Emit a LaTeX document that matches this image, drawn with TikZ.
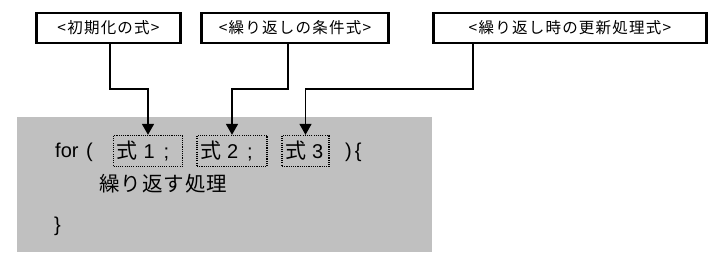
\documentclass[tikz,border=0pt]{standalone}
\usepackage{fontspec}
\setmainfont{Liberation Sans}
\newfontfamily\jp{Noto Sans CJK JP}
\newfontfamily\jpl[LetterSpace=8]{Noto Sans CJK JP}
\newfontfamily\jpb[LetterSpace=5]{Noto Sans CJK JP}
\usetikzlibrary{arrows.meta}
\definecolor{bg}{RGB}{192,192,192}
\begin{document}
\begin{tikzpicture}[x=1pt,y=-1pt,
  lbl/.style={draw, line width=2.6pt, inner sep=0, minimum height=30pt, font=\jpl\fontsize{15.5}{17}\selectfont},
  dotbox/.style={draw, line width=1.3pt, dash pattern=on 1.1pt off 1.1pt, inner sep=0, minimum height=31pt, font=\fontsize{20}{22}\selectfont},
  code/.style={inner sep=0, font=\fontsize{20}{22}\selectfont},
  conn/.style={line width=1.4pt, -{Triangle[length=11pt,width=12pt]}}]
\useasboundingbox (0,0) rectangle (715,257);
\fill[bg] (17,117) rectangle (432,252);
% label boxes
\node[lbl, minimum width=144pt] (l1) at (108.5,28) {<初期化の式>};
\node[lbl, minimum width=187pt] (l2) at (295,28) {<繰り返しの条件式>};
\node[lbl, minimum width=273pt] (l3) at (570,28) {<繰り返し時の更新処理式>};
% code
\node[code, anchor=base west] (for) at (55,157) {for\hspace{7.5pt}(};
\node[dotbox] (d1) at (148,151) {\makebox[69pt][l]{\hspace{3pt}{\jp\fontsize{21}{22}\selectfont 式}\hspace{6pt}1\hspace{9pt};}};
\node[dotbox] (d2) at (232,151) {\makebox[70pt][l]{\hspace{3pt}{\jp\fontsize{21}{22}\selectfont 式}\hspace{6pt}2\hspace{9pt};}};
\node[dotbox] (d3) at (305.5,151) {\makebox[47pt][l]{\hspace{3pt}{\jp\fontsize{21}{22}\selectfont 式}\hspace{6pt}3}};
\node[code, anchor=base west] (close) at (345,157) {)\hspace{3pt}\{};
\node[code, anchor=base west, font=\jpb\fontsize{20.5}{22}\selectfont] (body) at (99,191) {繰り返す処理};
\node[code, anchor=base west] (end) at (54,231) {\}};
% connectors
\coordinate (k1) at (110,89);
\coordinate (k2) at (288,89);
\coordinate (k3) at (473,89);
\draw[conn] (l1.south -| k1) -- (k1) -| (d1.north);
\draw[conn] (l2.south -| k2) -- (k2) -| (d2.north);
\draw[conn] (l3.south -| k3) -- (k3) -| (d3.north);
\end{tikzpicture}
\end{document}
